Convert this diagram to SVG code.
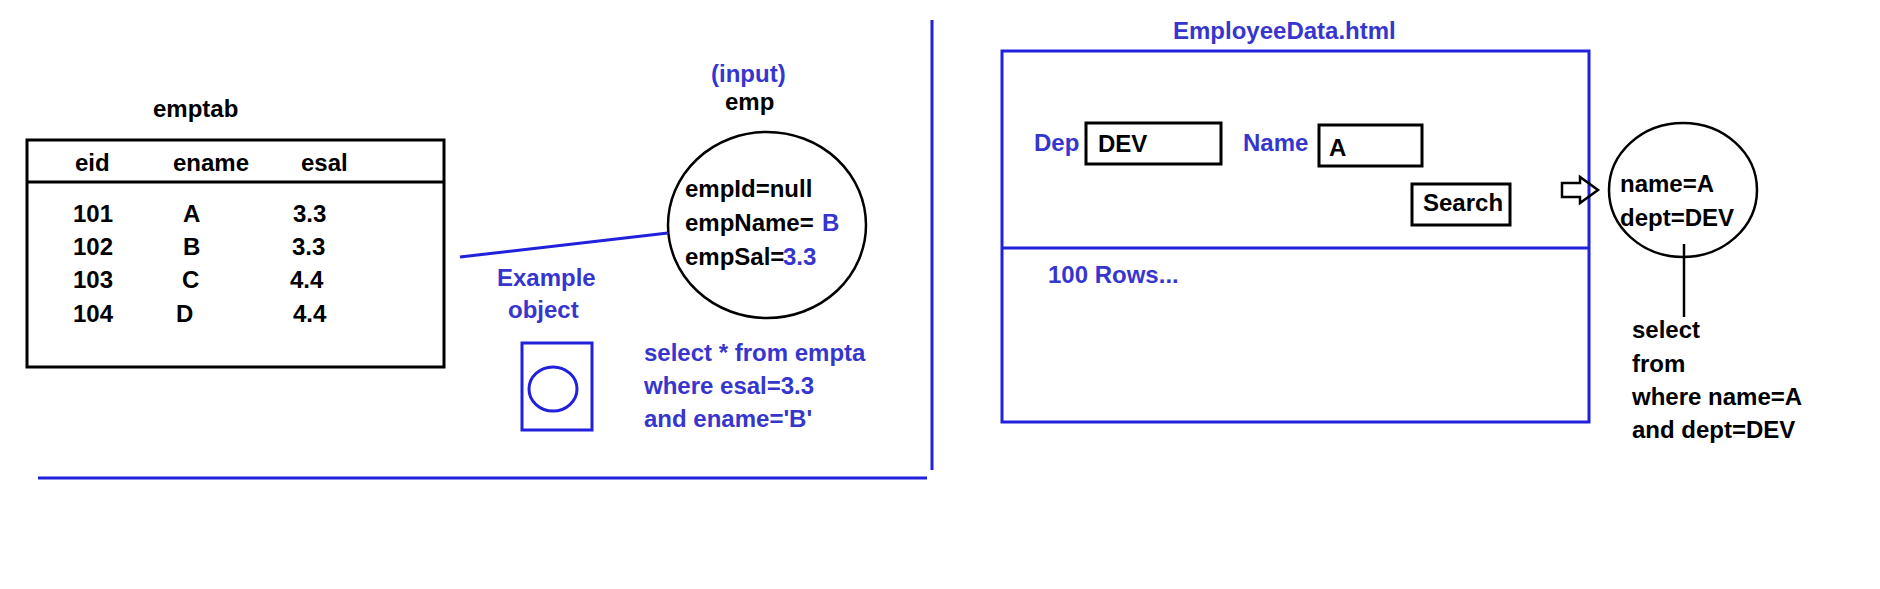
<svg xmlns="http://www.w3.org/2000/svg" width="1880" height="589" viewBox="0 0 1880 589">
<style>
text{font-family:"Liberation Sans",Arial,sans-serif;font-weight:bold;font-size:24px;fill:#000}
.b{fill:#3636cf}
.bl{stroke:#2020dd;stroke-width:3;fill:none}
.k{stroke:#000;stroke-width:3;fill:none}
.k2{stroke:#000;stroke-width:2.5;fill:none}
</style>
<rect width="1880" height="589" fill="#fff"/>
<g id="frame">
<line class="bl" x1="932" y1="20" x2="932" y2="470"/>
<line class="bl" x1="38" y1="478" x2="927" y2="478"/>
</g>
<g id="emptab">
<text x="153" y="117">emptab</text>
<rect class="k" x="27" y="140" width="417" height="227"/>
<line class="k" x1="27" y1="182" x2="444" y2="182"/>
<text x="75" y="171">eid</text>
<text x="173" y="171">ename</text>
<text x="301" y="171">esal</text>
<text x="73" y="222">101</text><text x="183" y="222">A</text><text x="293" y="222">3.3</text>
<text x="73" y="255">102</text><text x="183" y="255">B</text><text x="292" y="255">3.3</text>
<text x="73" y="288">103</text><text x="182" y="288">C</text><text x="290" y="288">4.4</text>
<text x="73" y="322">104</text><text x="176" y="322">D</text><text x="293" y="322">4.4</text>
</g>
<g id="emp">
<text class="b" x="711" y="82">(input)</text>
<text x="725" y="110">emp</text>
<ellipse class="k2" cx="767" cy="225" rx="99" ry="93"/>
<text x="685" y="197">empId=null</text>
<text x="685" y="231">empName=</text><text class="b" x="822" y="231">B</text>
<text x="685" y="265">empSal=</text><text class="b" x="783" y="265">3.3</text>
</g>
<g id="example">
<text class="b" x="497" y="286">Example</text>
<text class="b" x="508" y="318">object</text>
<rect class="bl" x="522" y="343" width="70" height="87"/>
<ellipse class="bl" cx="553" cy="389" rx="24" ry="22" stroke-width="2.5"/>
</g>
<g id="sql1">
<text class="b" x="644" y="361">select * from empta</text>
<text class="b" x="644" y="394">where esal=3.3</text>
<text class="b" x="644" y="427">and ename='B'</text>
</g>
<g id="page">
<text class="b" x="1173" y="39">EmployeeData.html</text>
<rect class="bl" x="1002" y="51" width="587" height="371"/>
<line class="bl" x1="1002" y1="248" x2="1589" y2="248"/>
<text class="b" x="1034" y="151">Dep</text>
<rect class="k" x="1086" y="123" width="135" height="41"/>
<text x="1098" y="152">DEV</text>
<text class="b" x="1243" y="151">Name</text>
<rect class="k" x="1319" y="125" width="103" height="41"/>
<text x="1329" y="156">A</text>
<rect class="k" x="1412" y="184" width="98" height="41"/>
<text x="1423" y="211">Search</text>
<text class="b" x="1048" y="283">100 Rows...</text>
</g>
<g id="connectors">
<line class="bl" x1="460" y1="257" x2="668" y2="233"/>
<polygon class="k2" points="1562,183 1580,183 1580,177 1598,190 1580,203 1580,197 1562,197"/>
<line class="k2" x1="1684" y1="244" x2="1684" y2="317"/>
</g>
<g id="params">
<ellipse class="k2" cx="1683" cy="190" rx="74" ry="67"/>
<text x="1620" y="192">name=A</text>
<text x="1620" y="226">dept=DEV</text>
</g>
<g id="sql2">
<text x="1632" y="338">select</text>
<text x="1632" y="372">from</text>
<text x="1632" y="405">where name=A</text>
<text x="1632" y="438">and dept=DEV</text>
</g>
</svg>
